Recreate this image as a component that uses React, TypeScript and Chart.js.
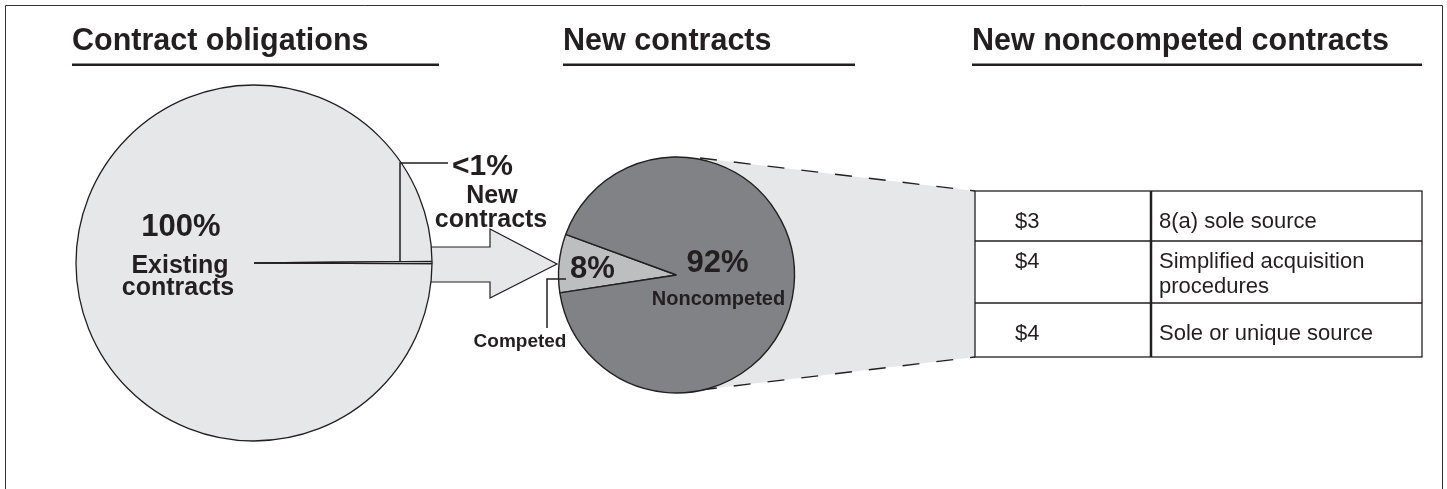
import React, { useEffect, useRef } from 'react';
import { Chart, registerables } from 'chart.js';
Chart.register(...registerables);

// ---------- data ----------
const titles = ['Contract obligations', 'New contracts', 'New noncompeted contracts'];
const obligationLabels = ['Existing contracts', 'New contracts'];
const obligationValues = [99.8, 0.2];
const obligationDisplay = ['100%', '<1%'];
const newContractLabels = ['Competed', 'Noncompeted'];
const newContractValues = [8, 92];
const newContractDisplay = ['8%', '92%'];
const noncompetedAmounts = ['$3', '$4', '$4'];
const noncompetedTypes = [['8(a) sole source'], ['Simplified acquisition', 'procedures'], ['Sole or unique source']];

// ---------- layout / style ----------
const W = 1447;
const H = 489;
const FF = '"Liberation Sans", Arial, Helvetica, sans-serif';
const INK = '#231f20';
const LIGHT = '#e6e7e8';
const MID = '#bcbec0';
const DARK = '#808285';

const P1 = { cx: 254, cy: 263, r: 178 };
const P2 = { cx: 676.5, cy: 275, r: 118 };
const TBL = { x: 975, y: 191, w: 447, h: 166, col: 1151, rows: [191, 241, 303, 357] };

function pad(cx: number, cy: number, half: number) {
  return { left: cx - half, top: cy - half, right: W - (cx + half), bottom: H - (cy + half) };
}

function text(ctx: CanvasRenderingContext2D, s: string, x: number, y: number, size: number, bold: boolean, align: CanvasTextAlign = 'left') {
  ctx.font = `${bold ? 'bold ' : ''}${size}px ${FF}`;
  ctx.fillStyle = INK;
  ctx.textAlign = align;
  ctx.textBaseline = 'alphabetic';
  ctx.fillText(s, x, y);
}

const backgroundPlugin = {
  id: 'bg',
  beforeDatasetsDraw(chart: any) {
    const ctx: CanvasRenderingContext2D = chart.ctx;
    ctx.save();
    // frame
    ctx.strokeStyle = '#333';
    ctx.lineWidth = 1;
    ctx.beginPath();
    ctx.moveTo(5.5, H);
    ctx.lineTo(5.5, 5.5);
    ctx.lineTo(1442.5, 5.5);
    ctx.lineTo(1442.5, H);
    ctx.stroke();

    // titles
    const tx = [72, 563, 972];
    const ul = [439, 855, 1422];
    titles.forEach((t, i) => {
      text(ctx, t, tx[i], 50, 30.5, true);
      ctx.fillStyle = INK;
      ctx.fillRect(tx[i], 63.5, ul[i] - tx[i], 2.5);
    });

    // arrow
    ctx.beginPath();
    ctx.moveTo(415, 247);
    ctx.lineTo(490, 247);
    ctx.lineTo(490, 229);
    ctx.lineTo(557, 264);
    ctx.lineTo(490, 298);
    ctx.lineTo(490, 282);
    ctx.lineTo(415, 282);
    ctx.fillStyle = LIGHT;
    ctx.fill();
    ctx.strokeStyle = INK;
    ctx.lineWidth = 1.2;
    ctx.stroke();

    // zoom wedge
    const top0 = { x: 700, y: 158 };
    const bot0 = { x: 700, y: 390 };
    ctx.beginPath();
    ctx.moveTo(P2.cx, P2.cy);
    ctx.lineTo(top0.x, top0.y);
    ctx.lineTo(TBL.x, TBL.y);
    ctx.lineTo(TBL.x, TBL.y + TBL.h);
    ctx.lineTo(bot0.x, bot0.y);
    ctx.closePath();
    ctx.fillStyle = LIGHT;
    ctx.fill();
    ctx.setLineDash([17, 17]);
    ctx.lineWidth = 1.4;
    ctx.strokeStyle = INK;
    ctx.beginPath();
    ctx.moveTo(top0.x, top0.y);
    ctx.lineTo(TBL.x, TBL.y);
    ctx.moveTo(bot0.x, bot0.y);
    ctx.lineTo(TBL.x, TBL.y + TBL.h);
    ctx.stroke();
    ctx.setLineDash([]);

    // table
    ctx.fillStyle = '#ffffff';
    ctx.fillRect(TBL.x, TBL.y, TBL.w, TBL.h);
    ctx.strokeStyle = INK;
    ctx.lineWidth = 1.3;
    ctx.strokeRect(TBL.x, TBL.y, TBL.w, TBL.h);
    ctx.beginPath();
    TBL.rows.slice(1, -1).forEach((ry) => {
      ctx.moveTo(TBL.x, ry);
      ctx.lineTo(TBL.x + TBL.w, ry);
    });
    ctx.stroke();
    ctx.lineWidth = 2.5;
    ctx.beginPath();
    ctx.moveTo(TBL.col, TBL.y);
    ctx.lineTo(TBL.col, TBL.y + TBL.h);
    ctx.stroke();

    const baselines = [228, 268, 340];
    noncompetedAmounts.forEach((a, i) => {
      text(ctx, a, 1015, baselines[i], 22, false);
      noncompetedTypes[i].forEach((line, j) => {
        text(ctx, line, TBL.col + 8, baselines[i] + j * 25, 22, false);
      });
    });
    ctx.restore();
  },
  afterDatasetsDraw(chart: any) {
    const ctx: CanvasRenderingContext2D = chart.ctx;
    const arc = chart.getDatasetMeta(0).data[0];
    const cx = arc.x;
    const cy = arc.y;
    ctx.save();
    text(ctx, obligationDisplay[0], cx - 73, cy - 27, 31, true, 'center');
    text(ctx, 'Existing', cx - 74, cy + 10, 25, true, 'center');
    text(ctx, 'contracts', cx - 76, cy + 32, 25, true, 'center');

    // <1% callout
    ctx.strokeStyle = INK;
    ctx.lineWidth = 1.5;
    ctx.beginPath();
    ctx.moveTo(cx + 146, cy - 1);
    ctx.lineTo(cx + 146, 163);
    ctx.lineTo(448, 163);
    ctx.stroke();
    text(ctx, obligationDisplay[1], 452, 175, 30, true, 'left');
    text(ctx, 'New', 492, 203, 25, true, 'center');
    text(ctx, 'contracts', 491, 227, 25, true, 'center');
    ctx.restore();
  },
};

const middlePlugin = {
  id: 'mid',
  afterDatasetsDraw(chart: any) {
    const ctx: CanvasRenderingContext2D = chart.ctx;
    const arc = chart.getDatasetMeta(0).data[0];
    const cx = arc.x;
    const cy = arc.y;
    ctx.save();
    text(ctx, newContractDisplay[0], 570, 278, 31, true, 'left');
    text(ctx, newContractDisplay[1], cx + 41, cy - 3, 31, true, 'center');
    text(ctx, newContractLabels[1], cx + 42, cy + 30, 20, true, 'center');
    ctx.strokeStyle = INK;
    ctx.lineWidth = 1.5;
    ctx.beginPath();
    ctx.moveTo(566, 279);
    ctx.lineTo(547, 279);
    ctx.lineTo(547, 328);
    ctx.stroke();
    text(ctx, newContractLabels[0], 520, 347, 19, true, 'center');
    ctx.restore();
  },
};

export default function App() {
  const c1 = useRef<HTMLCanvasElement>(null);
  const c2 = useRef<HTMLCanvasElement>(null);

  useEffect(() => {
    const common = {
      animation: false as const,
      responsive: false,
      devicePixelRatio: 1,
      events: [] as any[],
      plugins: { legend: { display: false }, tooltip: { enabled: false }, title: { display: false } },
    };
    const ch1 = new Chart(c1.current!, {
      type: 'pie',
      data: {
        labels: obligationLabels,
        datasets: [{ data: obligationValues, backgroundColor: [LIGHT, LIGHT], borderColor: INK, borderWidth: 1.3 }],
      },
      options: { ...common, rotation: 90.2, radius: P1.r, layout: { padding: pad(P1.cx, P1.cy, 190) } } as any,
      plugins: [backgroundPlugin],
    });
    const ch2 = new Chart(c2.current!, {
      type: 'pie',
      data: {
        labels: newContractLabels,
        datasets: [{ data: newContractValues, backgroundColor: [MID, DARK], borderColor: INK, borderWidth: 1.4 }],
      },
      options: { ...common, rotation: 261.3, radius: P2.r, layout: { padding: pad(P2.cx, P2.cy, 130) } } as any,
      plugins: [middlePlugin],
    });
    return () => {
      ch1.destroy();
      ch2.destroy();
    };
  }, []);

  const style: React.CSSProperties = { position: 'absolute', left: 0, top: 0 };
  return (
    <div style={{ position: 'absolute', left: 0, top: 0, width: W, height: H, background: '#fff', overflow: 'hidden' }}>
      <canvas ref={c1} width={W} height={H} style={style} />
      <canvas ref={c2} width={W} height={H} style={style} />
    </div>
  );
}
